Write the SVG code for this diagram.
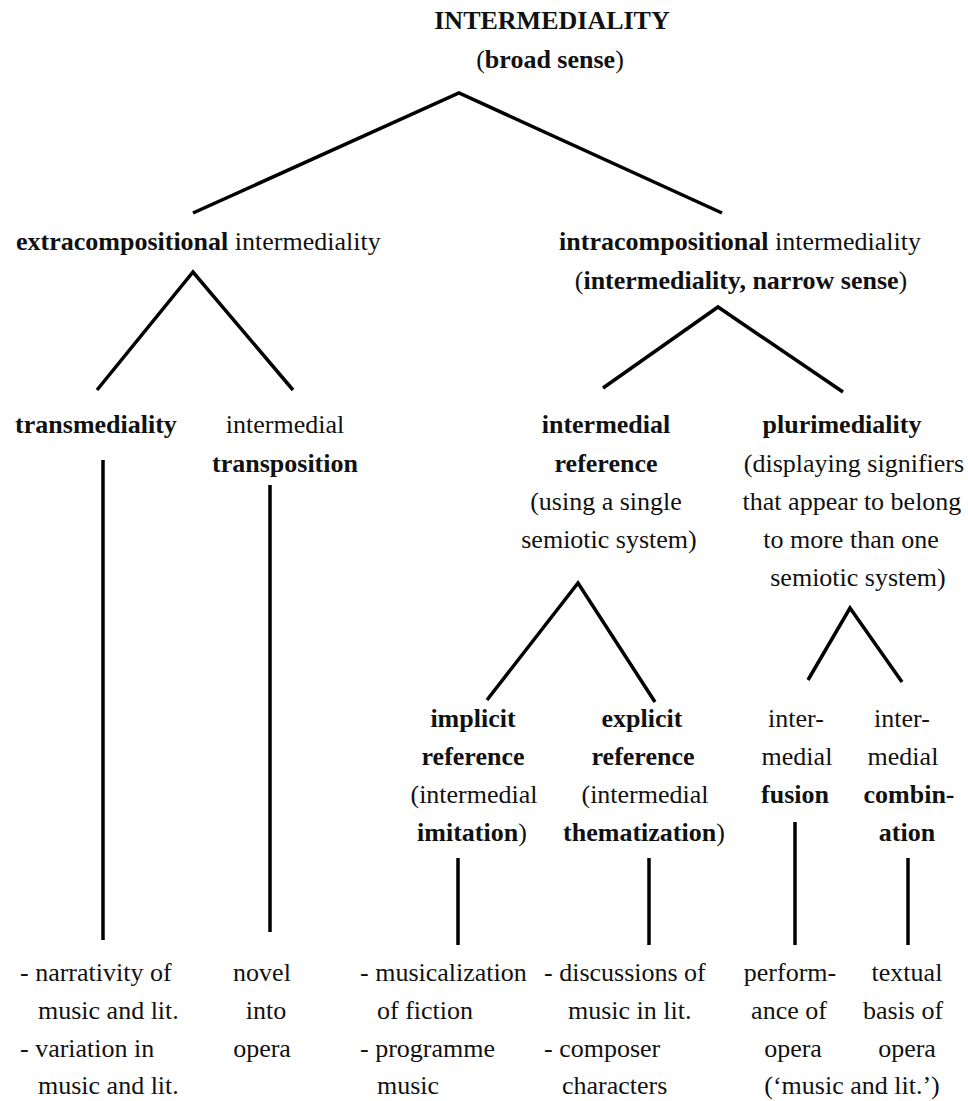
<svg xmlns="http://www.w3.org/2000/svg" width="968" height="1101" viewBox="0 0 968 1101">
<style>
text{font-family:"Liberation Serif","Times New Roman",serif;font-size:26px;fill:#111}
.c{text-anchor:middle}
.b{font-weight:bold}
.ln{stroke:#000;stroke-width:3.5;fill:none;stroke-linecap:butt}
</style>
<rect width="968" height="1101" fill="#fff"/>
<g id="connectors" class="ln">
<polyline points="193,213 459,93 722,213"/>
<polyline points="97,390 193,272 293,390"/>
<polyline points="603,388 718,307 843,392"/>
<polyline points="487,700 578,583 655,702"/>
<polyline points="808,680 850,608 902,682"/>
<line x1="103" y1="460" x2="103" y2="940"/>
<line x1="270" y1="485" x2="270" y2="932"/>
<line x1="458" y1="858" x2="458" y2="945"/>
<line x1="649" y1="858" x2="649" y2="945"/>
<line x1="795" y1="822" x2="795" y2="945"/>
<line x1="908" y1="858" x2="908" y2="945"/>
</g>
<g id="root">
<text class="c b" x="552" y="29">INTERMEDIALITY</text>
<text class="c" x="550" y="68">(<tspan class="b">broad sense</tspan>)</text>
</g>
<g id="extra">
<text x="16" y="250"><tspan class="b">extracompositional</tspan> intermediality</text>
</g>
<g id="intra">
<text class="c" x="740" y="250"><tspan class="b">intracompositional</tspan> intermediality</text>
<text class="c" x="741" y="289">(<tspan class="b">intermediality, narrow sense</tspan>)</text>
</g>
<g id="transmediality">
<text class="c b" x="96" y="433">transmediality</text>
</g>
<g id="transposition">
<text class="c" x="285" y="433">intermedial</text>
<text class="c b" x="285" y="472">transposition</text>
</g>
<g id="reference">
<text class="c b" x="606" y="433">intermedial</text>
<text class="c b" x="606" y="472">reference</text>
<text class="c" x="606" y="510">(using a single</text>
<text class="c" x="609" y="548">semiotic system)</text>
</g>
<g id="plurimediality">
<text class="c b" x="842" y="433">plurimediality</text>
<text class="c" x="854" y="472">(displaying signifiers</text>
<text class="c" x="852" y="510">that appear to belong</text>
<text class="c" x="851" y="548">to more than one</text>
<text class="c" x="858" y="586">semiotic system)</text>
</g>
<g id="implicit">
<text class="c b" x="473" y="727">implicit</text>
<text class="c b" x="473" y="765">reference</text>
<text class="c" x="474" y="803">(intermedial</text>
<text class="c" x="472" y="841"><tspan class="b">imitation</tspan>)</text>
</g>
<g id="explicit">
<text class="c b" x="642" y="727">explicit</text>
<text class="c b" x="643" y="765">reference</text>
<text class="c" x="645" y="803">(intermedial</text>
<text class="c" x="644" y="841"><tspan class="b">thematization</tspan>)</text>
</g>
<g id="fusion">
<text class="c" x="796" y="727">inter-</text>
<text class="c" x="797" y="765">medial</text>
<text class="c b" x="795" y="803">fusion</text>
</g>
<g id="combination">
<text class="c" x="902" y="727">inter-</text>
<text class="c" x="903" y="765">medial</text>
<text class="c b" x="909" y="803">combin-</text>
<text class="c b" x="907" y="841">ation</text>
</g>
<g id="ex-transmediality">
<text x="20" y="981">- narrativity of</text>
<text x="38" y="1019">music and lit.</text>
<text x="20" y="1057">- variation in</text>
<text x="38" y="1094">music and lit.</text>
</g>
<g id="ex-transposition">
<text class="c" x="262" y="981">novel</text>
<text class="c" x="266" y="1019">into</text>
<text class="c" x="262" y="1057">opera</text>
</g>
<g id="ex-implicit">
<text x="360" y="981">- musicalization</text>
<text x="377" y="1019">of fiction</text>
<text x="360" y="1057">- programme</text>
<text x="377" y="1094">music</text>
</g>
<g id="ex-explicit">
<text x="544" y="981">- discussions of</text>
<text x="568" y="1019">music in lit.</text>
<text x="544" y="1057">- composer</text>
<text x="562" y="1094">characters</text>
</g>
<g id="ex-fusion">
<text class="c" x="790" y="981">perform-</text>
<text class="c" x="789" y="1019">ance of</text>
<text class="c" x="793" y="1057">opera</text>
<text class="c" x="852" y="1094">(‘music and lit.’)</text>
</g>
<g id="ex-combination">
<text class="c" x="907" y="981">textual</text>
<text class="c" x="903" y="1019">basis of</text>
<text class="c" x="907" y="1057">opera</text>
</g>
</svg>
